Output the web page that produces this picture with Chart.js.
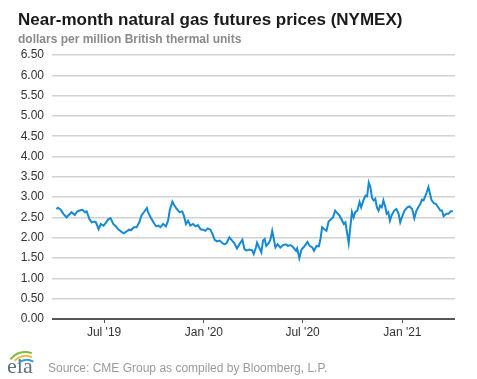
<!DOCTYPE html>
<html>
<head>
<meta charset="utf-8">
<title>Near-month natural gas futures prices (NYMEX)</title>
<script src="https://cdn.jsdelivr.net/npm/chart.js@4.4.0/dist/chart.umd.min.js"></script>
<style>
    body { margin: 0; background: #fff; }
    #wrap { width: 477px; height: 379px; }
</style>
</head>
<body>
<div id="wrap"><canvas id="gasChart" width="477" height="379"></canvas></div>
<script>
// trading dates (sampled) and near-month prices, $/MMBtu
const dates = [
    '2019-04-04', '2019-04-07', '2019-04-12', '2019-04-17', '2019-04-23', '2019-04-26',
    '2019-05-02', '2019-05-08', '2019-05-12', '2019-05-17', '2019-05-22', '2019-05-27', '2019-05-30',
    '2019-06-04', '2019-06-08', '2019-06-13', '2019-06-16', '2019-06-21', '2019-06-25', '2019-06-30',
    '2019-07-05', '2019-07-09', '2019-07-13', '2019-07-18', '2019-07-23', '2019-07-27',
    '2019-08-02', '2019-08-06', '2019-08-11', '2019-08-16', '2019-08-20', '2019-08-25', '2019-08-30',
    '2019-09-04', '2019-09-08', '2019-09-13', '2019-09-18', '2019-09-20', '2019-09-25', '2019-09-30',
    '2019-10-05', '2019-10-09', '2019-10-13', '2019-10-18', '2019-10-23', '2019-10-27', '2019-10-30',
    '2019-11-04', '2019-11-08', '2019-11-12', '2019-11-17', '2019-11-22', '2019-11-25', '2019-11-29',
    '2019-12-03', '2019-12-07', '2019-12-12', '2019-12-17', '2019-12-21', '2019-12-26', '2019-12-30',
    '2020-01-04', '2020-01-08', '2020-01-13', '2020-01-17', '2020-01-21', '2020-01-25', '2020-01-30',
    '2020-02-04', '2020-02-08', '2020-02-12', '2020-02-17', '2020-02-22', '2020-02-26',
    '2020-03-02', '2020-03-07', '2020-03-12', '2020-03-16', '2020-03-20', '2020-03-25', '2020-03-30',
    '2020-04-02', '2020-04-06', '2020-04-08', '2020-04-12', '2020-04-16', '2020-04-19', '2020-04-22',
    '2020-04-25', '2020-04-30', '2020-05-03', '2020-05-06', '2020-05-09', '2020-05-12', '2020-05-16',
    '2020-05-21', '2020-05-26', '2020-05-31', '2020-06-04', '2020-06-09', '2020-06-14', '2020-06-19',
    '2020-06-21', '2020-06-25', '2020-06-29', '2020-07-05', '2020-07-10', '2020-07-14', '2020-07-19',
    '2020-07-22', '2020-07-27', '2020-07-31', '2020-08-03', '2020-08-06', '2020-08-10', '2020-08-14',
    '2020-08-18', '2020-08-23', '2020-08-26', '2020-08-30', '2020-09-04', '2020-09-07', '2020-09-12',
    '2020-09-15', '2020-09-18', '2020-09-21', '2020-09-24', '2020-09-27', '2020-09-30', '2020-10-03',
    '2020-10-06', '2020-10-10', '2020-10-14', '2020-10-17', '2020-10-21', '2020-10-25', '2020-10-28',
    '2020-10-31', '2020-11-03', '2020-11-06', '2020-11-09', '2020-11-12', '2020-11-15', '2020-11-18',
    '2020-11-21', '2020-11-24', '2020-11-27', '2020-11-30', '2020-12-03', '2020-12-06', '2020-12-09',
    '2020-12-12', '2020-12-17', '2020-12-21', '2020-12-25', '2020-12-28', '2020-12-31',
    '2021-01-05', '2021-01-10', '2021-01-14', '2021-01-19', '2021-01-23', '2021-01-27', '2021-01-31',
    '2021-02-03', '2021-02-06', '2021-02-09', '2021-02-12', '2021-02-15', '2021-02-18', '2021-02-21',
    '2021-02-24', '2021-02-28', '2021-03-04', '2021-03-08', '2021-03-12', '2021-03-15', '2021-03-18',
    '2021-03-23', '2021-03-27', '2021-03-31', '2021-04-04'
];
const prices = [
    2.71, 2.74, 2.69, 2.59, 2.50, 2.55,
    2.63, 2.56, 2.64, 2.67, 2.69, 2.63, 2.65,
    2.46, 2.38, 2.40, 2.38, 2.21, 2.34, 2.30,
    2.38, 2.46, 2.48, 2.34, 2.28, 2.21,
    2.15, 2.11, 2.15, 2.20, 2.19, 2.26, 2.26,
    2.38, 2.55, 2.64, 2.73, 2.63, 2.50, 2.38,
    2.28, 2.30, 2.26, 2.34, 2.28, 2.42, 2.67,
    2.89, 2.79, 2.71, 2.63, 2.65, 2.55, 2.34,
    2.42, 2.30, 2.34, 2.28, 2.31, 2.21, 2.20,
    2.17, 2.23, 2.20, 2.09, 1.95, 1.91, 1.93,
    1.87, 1.84, 1.87, 2.01, 1.93, 1.87,
    1.74, 1.85, 1.95, 1.71, 1.69, 1.71, 1.69,
    1.60, 1.76, 1.88, 1.76, 1.64, 1.93, 1.97,
    1.80, 1.88, 1.97, 2.17, 1.97, 1.76, 1.84,
    1.76, 1.82, 1.84, 1.80, 1.82, 1.76, 1.68,
    1.74, 1.50, 1.71, 1.80, 1.90, 1.80, 1.76,
    1.68, 1.80, 1.79, 1.97, 2.26, 2.21, 2.17,
    2.40, 2.46, 2.50, 2.67, 2.59, 2.55, 2.42,
    2.34, 2.38, 2.13, 1.87, 2.26, 2.63, 2.50,
    2.63, 2.67, 2.88, 2.75, 2.92, 3.04, 3.02,
    3.36, 3.25, 2.98, 2.92, 2.96, 2.75, 2.67,
    2.79, 2.75, 2.92, 2.79, 2.59, 2.63, 2.42,
    2.55, 2.67, 2.71, 2.59, 2.38, 2.50,
    2.67, 2.75, 2.77, 2.71, 2.48, 2.67, 2.77,
    2.83, 2.94, 2.92, 3.02, 3.12, 3.25, 3.08,
    2.92, 2.85, 2.83, 2.75, 2.67, 2.67, 2.53,
    2.59, 2.59, 2.65, 2.65
];
const tickDates = ['2019-07-01', '2020-01-01', '2020-07-01', '2021-01-01'];
const tickLabels = ["Jul '19", "Jan '20", "Jul '20", "Jan '21"];
const axisStart = '2019-03-27';
const axisEnd = '2021-04-08';

const DAY = 86400000;
const epoch = Date.parse('2019-01-01');
function dayNum(s) {
    return Math.round((Date.parse(s) - epoch) / DAY);
}

const points = dates.map((d, i) => ({ x: dayNum(d), y: prices[i] }));
const tickDays = tickDates.map(dayNum);

const FONT = '"Liberation Sans", Arial, sans-serif';

// title, subtitle and footer drawn straight on the canvas
const textPlugin = {
    id: 'eiaText',
    afterDraw(chart) {
        const c = chart.ctx;
        c.save();
        c.textBaseline = 'alphabetic';
        c.textAlign = 'left';
        c.fillStyle = '#1a1a1a';
        c.font = 'bold 17px ' + FONT;
        c.fillText('Near-month natural gas futures prices (NYMEX)', 18, 25);
        c.fillStyle = '#8a8a8a';
        c.font = 'bold 12px ' + FONT;
        c.fillText('dollars per million British thermal units', 18, 43);

        // eia logo
        c.lineWidth = 2;
        c.strokeStyle = '#7dbb42';
        c.beginPath();
        c.arc(25, 370, 18, 1.2 * Math.PI, 1.62 * Math.PI);
        c.stroke();
        c.strokeStyle = '#f2b632';
        c.beginPath();
        c.arc(26, 372, 16, 1.25 * Math.PI, 1.62 * Math.PI);
        c.stroke();
        c.strokeStyle = '#2a9fd8';
        c.beginPath();
        c.arc(27, 374, 14, 1.3 * Math.PI, 1.65 * Math.PI);
        c.stroke();
        c.fillStyle = '#5d6f80';
        c.font = '22px "Liberation Serif", "DejaVu Serif", serif';
        c.fillText('eia', 7, 373);

        c.fillStyle = '#9a9a9a';
        c.font = '12px ' + FONT;
        c.fillText('Source: CME Group as compiled by Bloomberg, L.P.', 48, 372);
        c.restore();
    }
};

const ctx = document.getElementById('gasChart');
new Chart(ctx, {
    type: 'line',
    data: {
        datasets: [{
            label: 'Near-month price',
            data: points,
            borderColor: '#1589d4',
            borderWidth: 2,
            pointRadius: 0,
            tension: 0,
            fill: false
        }]
    },
    options: {
        responsive: false,
        animation: false,
        layout: { padding: { left: 0, top: 55, right: 22, bottom: 30 } },
        plugins: {
            legend: { display: false },
            tooltip: { enabled: false }
        },
        scales: {
            x: {
                type: 'linear',
                min: dayNum(axisStart),
                max: dayNum(axisEnd),
                afterBuildTicks: scale => {
                    scale.ticks = tickDays.map(v => ({ value: v }));
                },
                afterFit: scale => { scale.height = 30; },
                grid: {
                    drawOnChartArea: false,
                    drawTicks: true,
                    tickLength: 4,
                    color: '#555'
                },
                border: { display: false },
                ticks: {
                    autoSkip: false,
                    maxRotation: 0,
                    padding: 2,
                    color: '#333',
                    font: { family: FONT, size: 12 },
                    callback: v => {
                        const i = tickDays.indexOf(v);
                        return i >= 0 ? tickLabels[i] : '';
                    }
                }
            },
            y: {
                min: 0,
                max: 6.5,
                afterFit: scale => { scale.width = 52; },
                grid: {
                    drawTicks: false,
                    lineWidth: ctx => ctx.tick.value === 0 ? 2 : 1.5,
                    color: ctx => ctx.tick.value === 0 ? '#555' : '#d2d2d2'
                },
                border: { display: false },
                ticks: {
                    stepSize: 0.5,
                    autoSkip: false,
                    padding: 8,
                    color: '#333',
                    font: { family: FONT, size: 12 },
                    callback: v => v.toFixed(2)
                }
            }
        }
    },
    plugins: [textPlugin]
});
</script>
</body>
</html>
